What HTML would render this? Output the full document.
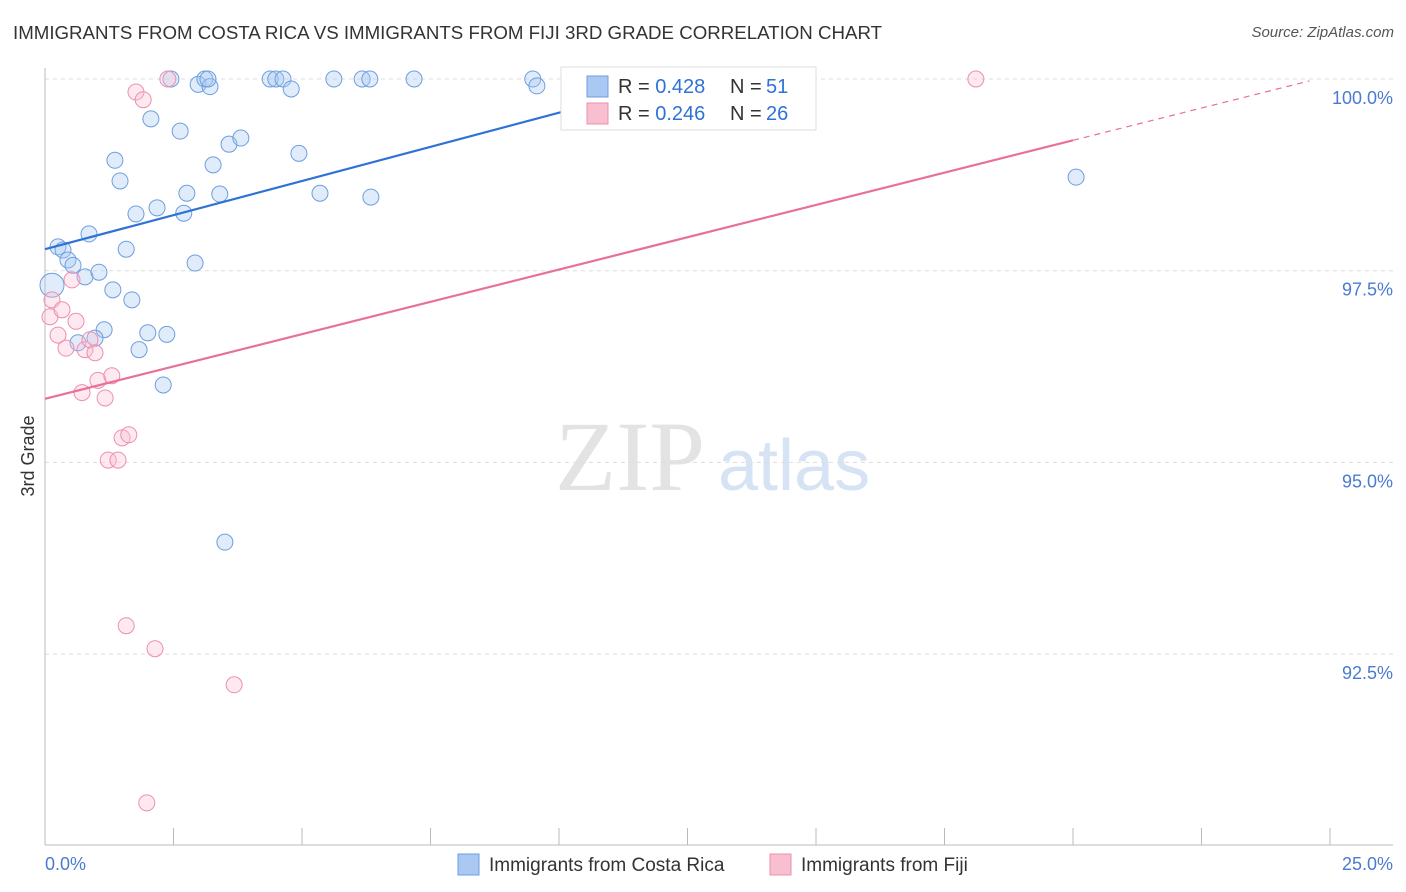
<!DOCTYPE html>
<html><head><meta charset="utf-8"><style>
body{margin:0;background:#fff;font-family:"Liberation Sans",sans-serif}
#c{position:relative;width:1406px;height:892px}
.t{position:absolute;white-space:nowrap}
</style></head><body>
<div id="c">
<div class="t" style="left:13px;top:22px;font-size:18.7px;color:#333">IMMIGRANTS FROM COSTA RICA VS IMMIGRANTS FROM FIJI 3RD GRADE CORRELATION CHART</div>
<div class="t" style="right:12px;top:24px;font-size:15px;color:#555;font-style:italic">Source: ZipAtlas.com</div>
<svg id="s" width="1406" height="892" style="position:absolute;left:0;top:0"></svg>
</div>
<script>
const blueX=[0.136,0.253,0.35,0.447,0.545,0.778,0.856,1.05,1.15,0.973,0.642,1.32,1.69,1.58,1.36,1.46,1.77,2.18,2.70,2.76,2.92,2.00,2.37,1.83,2.30,2.06,2.63,2.45,2.98,3.11,3.21,3.27,3.40,3.58,3.81,3.50,4.38,4.49,4.63,4.79,4.94,5.35,5.62,6.17,6.32,6.34,7.18,9.49,9.57,20.06,3.17];
const blueY=[97.31,97.81,97.77,97.64,97.57,97.42,97.98,97.48,96.73,96.62,96.56,97.25,97.12,97.78,98.94,98.67,98.24,98.32,98.25,98.51,97.60,96.69,96.67,96.47,96.01,99.48,99.32,100,99.93,100,99.90,98.88,98.50,99.15,99.23,93.96,100,100,100,99.87,99.03,98.51,100,100,100,98.46,100,100,99.91,98.72,100];
const pinkX=[0.136,0.097,0.253,0.331,0.409,0.525,0.603,0.778,0.875,0.973,1.03,1.30,0.72,1.17,1.50,1.63,1.23,1.42,1.77,1.91,2.39,1.58,2.14,3.68,1.98,18.11];
const pinkY=[97.12,96.90,96.66,96.99,96.49,97.38,96.84,96.47,96.60,96.43,96.07,96.13,95.91,95.84,95.32,95.36,95.03,95.03,99.83,99.73,100,92.87,92.57,92.10,90.56,100];
const yTicks=[100,97.5,95,92.5];
const yTickLabels=["100.0%","97.5%","95.0%","92.5%"];
const xTickVals=[0,2.5,5,7.5,10,12.5,15,17.5,20,22.5,25];
const blueTrend=[97.78,0.178];
const pinkTrend=[95.83,0.1685];
const X=v=>45+v/25*1285, Y=v=>79+(100-v)/2.5*191.7;
const s=document.getElementById('s'),NS='http://www.w3.org/2000/svg';
function el(t,a,p){const e=document.createElementNS(NS,t);for(const k in a)e.setAttribute(k,a[k]);(p||s).appendChild(e);return e;}
const wm=el('text',{x:555,y:490,'font-size':100,fill:'#e3e3e3','font-family':'Liberation Serif'});wm.textContent='ZIP';


const wm2=el('text',{x:718,y:490,'font-size':72,fill:'#d6e3f5','font-family':'Liberation Sans'});wm2.textContent='atlas';


yTicks.forEach((v,i)=>{
 const g=el('line',{x1:45,x2:1393,y1:Y(v),y2:Y(v),stroke:'#ddd','stroke-dasharray':'4,4'});
 
 
 const t=el('text',{x:1393,y:Y(v)+25,'text-anchor':'end','font-size':18,fill:'#4a7bd0','font-family':'Liberation Sans'});
 t.textContent=yTickLabels[i];
 
 
});
const ax=el('line',{x1:45,x2:1393,y1:845,y2:845,stroke:'#bbb'});


const ay=el('line',{x1:45,x2:45,y1:68,y2:845,stroke:'#bbb'});


xTickVals.forEach(v=>{const l=el('line',{x1:X(v),x2:X(v),y1:828,y2:845,stroke:'#bbb'});
 
 });
[[0,'start',45,'0.0%'],[25,'end',1393,'25.0%']].forEach(a=>{const t=el('text',{x:a[2],y:870,'text-anchor':a[1],'font-size':18,fill:'#4a7bd0','font-family':'Liberation Sans'});t.textContent=a[3];
 
 });
const yt=el('text',{x:34,y:456,'text-anchor':'middle','font-size':18,fill:'#333',transform:'rotate(-90 34 456)','font-family':'Liberation Sans'});yt.textContent='3rd Grade';


function dots(xs,ys,fill,stroke,name){xs.forEach((x,i)=>{const c=el('circle',{cx:X(x),cy:Y(ys[i]),r:i===0&&name==='blue-point'?12:8,fill:fill,'fill-opacity':0.35,stroke:stroke,'stroke-width':1});
 
 });}
dots(blueX,blueY,'#a9c8f2','#6d9ee0','blue-point');
dots(pinkX,pinkY,'#f8bfd0','#ee8fae','pink-point');
function trend(tr,x0,x1,x2,col,name){
 const a=el('line',{x1:X(x0),y1:Y(tr[0]+tr[1]*x0),x2:X(x1),y2:Y(tr[0]+tr[1]*x1),stroke:col,'stroke-width':2.2});
 
 
 const b=el('line',{x1:X(x1),y1:Y(tr[0]+tr[1]*x1),x2:X(x2),y2:Y(tr[0]+tr[1]*x2),stroke:col,'stroke-width':1.2,'stroke-dasharray':'6,5'});
 
 }
trend(blueTrend,0,12.5,12.5,'#2f72d6','blue-trend-line');
trend(pinkTrend,0,20,24.6,'#e8709a','pink-trend-line');
const lg=el('rect',{x:561,y:67,width:255,height:63,fill:'#fff',stroke:'#ddd'});


[['#a9c8f2','#6d9ee0','0.428','51',86],['#f8bfd0','#ee8fae','0.246','26',113]].forEach(r=>{
 const b=el('rect',{x:587,y:r[4]-10,width:21,height:21,fill:r[0],stroke:r[1]});
 
 
 const t=el('text',{x:618,y:r[4]+7,'font-size':20,fill:'#333','font-family':'Liberation Sans'});
 t.innerHTML='R = <tspan fill="#2f72d6">'+r[2]+'</tspan><tspan x="730">N = </tspan><tspan fill="#2f72d6" x="766">'+r[3]+'</tspan>';
 
 
});
[[458,'#a9c8f2','#6d9ee0','Immigrants from Costa Rica'],[770,'#f8bfd0','#ee8fae','Immigrants from Fiji']].forEach(r=>{
 const b=el('rect',{x:r[0],y:854,width:21,height:21,fill:r[1],stroke:r[2]});
 
 
 const t=el('text',{x:r[0]+31,y:871,'font-size':19,fill:'#333','font-family':'Liberation Sans'});t.textContent=r[3];
 
 
});
</script>
</body></html>
